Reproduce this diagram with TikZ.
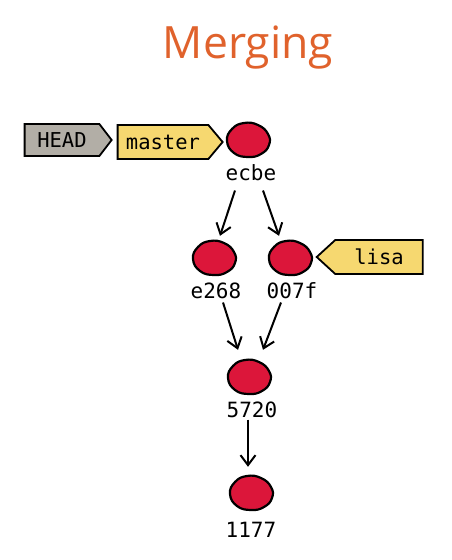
\documentclass[tikz,border=0pt]{standalone}
\usepackage{fontspec}
\setmainfont{Open Sans}
\newfontfamily\monof{DejaVu Sans Mono}
\usetikzlibrary{shapes.geometric,shapes.symbols,arrows.meta,calc}
\definecolor{ttl}{RGB}{224,98,44}
\definecolor{cred}{RGB}{220,22,58}
\definecolor{tyel}{RGB}{246,216,112}
\definecolor{tgry}{RGB}{178,174,166}
\begin{document}
\begin{tikzpicture}[x=1pt,y=-1pt,
  commit/.style={ellipse, minimum width=42pt, minimum height=36pt, inner sep=0pt},
  blob/.style={fill=cred, draw=black, line width=2.2pt},
  lbl/.style={font=\monof\fontsize{21}{25}\selectfont, inner sep=0pt, anchor=base},
  tag/.style={signal, draw=black, line width=1.8pt, font=\monof\fontsize{20.5}{24}\selectfont, minimum height=32pt, inner ysep=0pt},
  arr/.style={-{Straight Barb[length=10pt,width=15pt,line width=2pt]}, line width=2pt}]
\useasboundingbox (0,0) rectangle (451,560);
\node[font=\fontsize{44.5}{52}\selectfont, text=ttl, anchor=base, inner sep=0pt] (title) at (248,58) {Merging};
% commits
\node[commit] (cecbe) at (248,140) {};
\node[commit] (ce268) at (214,258) {};
\node[commit] (c007f) at (290,258) {};
\node[commit] (c5720) at (249,377) {};
\node[commit] (c1177) at (251,493) {};
\foreach \n in {cecbe,ce268,c007f,c5720,c1177}{
  \begin{scope}[shift={(\n)}]
    \draw[blob] plot[smooth cycle, tension=0.8] coordinates {(-21,1) (-16,-11) (-4,-17) (10,-15) (20,-6) (21,5) (13,14) (0,17) (-14,13)};
  \end{scope}
}
\node[lbl] (lecbe) at (251,180) {ecbe};
\node[lbl] (le268) at (216,298) {e268};
\node[lbl] (l007f) at (292,298) {007f};
\node[lbl] (l5720) at (252,417) {5720};
\node[lbl] (l1177) at (251,537) {1177};
% tags
\node[tag, fill=tgry, signal to=east, signal pointer angle=105, minimum width=87pt] (head) at (62,140) {HEAD};
\node[tag, fill=tyel, signal to=east, signal pointer angle=100, minimum width=105pt, minimum height=34pt] (master) at (163,142) {master};
\node[tag, fill=tyel, signal to=west, signal pointer angle=85, minimum width=106pt, minimum height=34pt] (lisa) at (379,257) {lisa};
% arrows
\draw[arr] ($(lecbe.south)+(-16,10)$) -- ($(ce268.north)+(6,-4)$);
\draw[arr] ($(lecbe.south)+(12,10)$) -- ($(c007f.north)+(-11,-4)$);
\draw[arr] ($(le268.south)+(7,4)$) -- ($(c5720.north)+(-11,-9)$);
\draw[arr] ($(l007f.south)+(-11,4)$) -- ($(c5720.north)+(14,-9)$);
\draw[arr] ($(l5720.south)+(-4,2)$) -- ($(c1177.north)+(-3,-8)$);
\end{tikzpicture}
\end{document}
